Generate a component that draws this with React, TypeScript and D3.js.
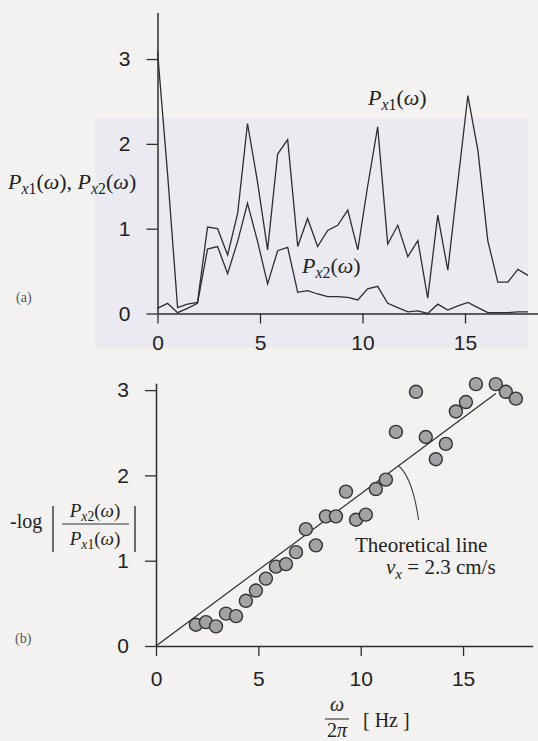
import React, { useRef, useEffect } from "react";
import * as d3 from "d3";

// spectrum frequencies [Hz] (0.488 Hz bins)
const freq = [
  0, 0.49, 0.98, 1.46, 1.95, 2.44, 2.93, 3.42, 3.91, 4.39, 4.88, 5.37, 5.86,
  6.35, 6.84, 7.32, 7.81, 8.3, 8.79, 9.28, 9.77, 10.25, 10.74, 11.23, 11.72,
  12.21, 12.7, 13.18, 13.67, 14.16, 14.65, 15.14, 15.63, 16.11, 16.6, 17.09,
  17.58, 18.07,
];
const px1 = [
  3.09, 1.65, 0.07, 0.11, 0.13, 1.02, 1.0, 0.69, 1.18, 2.24, 1.55, 0.75, 1.88,
  2.05, 0.79, 1.12, 0.79, 0.98, 1.04, 1.22, 0.75, 1.5, 2.2, 0.82, 1.04, 0.67,
  0.86, 0.18, 1.16, 0.51, 1.55, 2.57, 1.92, 0.86, 0.37, 0.37, 0.52, 0.45,
];
const px2 = [
  0.06, 0.12, 0.01, 0.06, 0.12, 0.76, 0.79, 0.47, 0.85, 1.3, 0.85, 0.35, 0.74,
  0.78, 0.25, 0.27, 0.23, 0.2, 0.2, 0.19, 0.16, 0.29, 0.32, 0.12, 0.07, 0.02,
  0.03, 0.0, 0.11, 0.04, 0.09, 0.13, 0.07, 0.01, 0.01, 0.01, 0.02, 0.02,
];

// -log|Px2/Px1|
const ratioFreq = [
  1.95, 2.44, 2.93, 3.42, 3.91, 4.39, 4.88, 5.37, 5.86, 6.35, 6.84, 7.32, 7.81,
  8.3, 8.79, 9.28, 9.77, 10.25, 10.74, 11.23, 11.72, 12.7, 13.18, 13.67, 14.16,
  14.65, 15.14, 15.63, 16.6, 17.09, 17.58,
];
const ratioVal = [
  0.25, 0.28, 0.23, 0.38, 0.35, 0.53, 0.65, 0.79, 0.93, 0.96, 1.1, 1.37, 1.18,
  1.52, 1.52, 1.81, 1.48, 1.54, 1.84, 1.95, 2.51, 2.98, 2.45, 2.19, 2.37, 2.75,
  2.86, 3.07, 3.07, 2.98, 2.9,
];
// theoretical line v_x = 2.3 cm/s
const theoryX = [0, 16.6];
const theoryY = [0, 2.96];

const xTicks = [0, 5, 10, 15];
const yTicks = [0, 1, 2, 3];

const INK = "#2e2e2e";
const SERIF = "'Liberation Serif', 'Times New Roman', serif";
const SANS = "'Liberation Sans', Arial, sans-serif";

type Sel = d3.Selection<SVGGElement, unknown, null, undefined>;

// P_{x n}(ω) as text
function pLabel(t: d3.Selection<SVGTextElement, unknown, null, undefined>, n: string) {
  t.append("tspan").attr("font-style", "italic").text("P");
  t.append("tspan").attr("font-style", "italic").attr("font-size", "0.72em").attr("dy", "0.3em").text("x");
  t.append("tspan").attr("font-size", "0.72em").text(n);
  t.append("tspan").attr("dy", "-0.22em").text("(");
  t.append("tspan").attr("font-style", "italic").text("ω");
  t.append("tspan").text(")");
}

function styleAxis(g: Sel, size: number) {
  g.select(".domain").attr("stroke", INK).attr("stroke-width", 1.5);
  g.selectAll(".tick line").attr("stroke", INK).attr("stroke-width", 1.3);
  g.selectAll(".tick text")
    .attr("fill", "#222")
    .attr("font-family", SANS)
    .attr("font-size", size);
}

const App: React.FC = () => {
  const gRef = useRef<SVGGElement | null>(null);

  useEffect(() => {
    if (!gRef.current) return;
    const root = d3.select(gRef.current);
    root.selectAll("*").remove();
    const fmt = d3.format("d");

    // ---------- (a) spectra ----------
    const xA = d3.scaleLinear().domain([0, 18.56]).range([157.5, 538]);
    const yA = d3.scaleLinear().domain([0, 3.55]).range([313.5, 12.4]);

    const gA = root.append("g");
    const axA = gA
      .append("g")
      .attr("transform", `translate(0,${yA(0)})`)
      .call(d3.axisBottom(xA).tickValues(xTicks).tickFormat(fmt).tickSize(10).tickSizeOuter(0).tickPadding(12));
    styleAxis(axA, 21);
    const ayA = gA
      .append("g")
      .attr("transform", `translate(${xA(0)},0)`)
      .call(d3.axisLeft(yA).tickValues(yTicks).tickFormat(fmt).tickSize(11).tickSizeOuter(0).tickPadding(16));
    styleAxis(ayA, 21);

    const lineA = (vals: number[]) =>
      d3
        .line<number>()
        .x((_, i) => xA(freq[i]))
        .y((d) => yA(d))(vals);

    gA.selectAll(".spec")
      .data([px1, px2])
      .join("path")
      .attr("class", "spec")
      .attr("d", (d) => lineA(d))
      .attr("fill", "none")
      .attr("stroke", INK)
      .attr("stroke-width", 1.3)
      .attr("stroke-linejoin", "miter");

    const l1 = gA.append("text").attr("x", 368).attr("y", 105).attr("font-family", SERIF).attr("font-size", 22).attr("fill", "#222");
    pLabel(l1, "1");
    const l2 = gA.append("text").attr("x", 302).attr("y", 273).attr("font-family", SERIF).attr("font-size", 22).attr("fill", "#222");
    pLabel(l2, "2");

    const yl = gA.append("text").attr("x", 8).attr("y", 189).attr("font-family", SERIF).attr("font-size", 22).attr("fill", "#222");
    pLabel(yl, "1");
    yl.append("tspan").text(", ");
    pLabel(yl, "2");

    gA.append("text").attr("x", 16).attr("y", 302).attr("font-family", SERIF).attr("font-size", 14).attr("fill", "#555").text("(a)");

    // ---------- (b) ratio ----------
    const xB = d3.scaleLinear().domain([0, 18.4]).range([156, 156 + 18.4 * 20.47]);
    const yB = d3.scaleLinear().domain([0, 3.08]).range([646, 646 - 3.08 * 85.3]);

    const gB = root.append("g");
    const axB = gB
      .append("g")
      .attr("transform", `translate(0,${yB(0)})`)
      .call(d3.axisBottom(xB).tickValues(xTicks).tickFormat(fmt).tickSize(10).tickSizeOuter(0).tickPadding(15));
    styleAxis(axB, 21);
    const ayB = gB
      .append("g")
      .attr("transform", `translate(${xB(0)},0)`)
      .call(d3.axisLeft(yB).tickValues(yTicks).tickFormat(fmt).tickSize(11).tickSizeOuter(0).tickPadding(16));
    styleAxis(ayB, 21);

    gB.append("path")
      .attr("d", d3.line<number>().x((d) => xB(d)).y((_, i) => yB(theoryY[i]))(theoryX))
      .attr("stroke", INK)
      .attr("stroke-width", 1.2)
      .attr("fill", "none");

    gB.selectAll(".pt")
      .data(ratioVal)
      .join("circle")
      .attr("class", "pt")
      .attr("cx", (_, i) => xB(ratioFreq[i]))
      .attr("cy", (d) => yB(d))
      .attr("r", 6.5)
      .attr("fill", "#a3a3a6")
      .attr("stroke", "#333")
      .attr("stroke-width", 1.4);

    // leader from theoretical line to its label
    const lx = xB(11.85);
    const ly = yB((theoryY[1] / theoryX[1]) * 11.85);
    gB.append("path")
      .attr("d", `M${lx},${ly} Q${lx + 14},${ly + 12} ${lx + 20},${ly + 54}`)
      .attr("fill", "none")
      .attr("stroke", "#444")
      .attr("stroke-width", 1.1);

    gB.append("text").attr("x", 355).attr("y", 552).attr("font-family", SERIF).attr("font-size", 21).attr("fill", "#222").text("Theoretical  line");
    const vt = gB.append("text").attr("x", 386).attr("y", 574).attr("font-family", SERIF).attr("font-size", 21).attr("fill", "#222");
    vt.append("tspan").attr("font-style", "italic").text("v");
    vt.append("tspan").attr("font-style", "italic").attr("font-size", "0.72em").attr("dy", "0.3em").text("x");
    vt.append("tspan").attr("dy", "-0.22em").text(" = 2.3 cm/s");

    // y label: -log | Px2 / Px1 |
    gB.append("text").attr("x", 10).attr("y", 528).attr("font-family", SERIF).attr("font-size", 20).attr("fill", "#222").text("-log");
    [53, 135].forEach((bx) =>
      gB.append("line").attr("x1", bx).attr("x2", bx).attr("y1", 506).attr("y2", 552).attr("stroke", "#333").attr("stroke-width", 1.4)
    );
    const num = gB.append("text").attr("x", 95).attr("y", 517).attr("text-anchor", "middle").attr("font-family", SERIF).attr("font-size", 19).attr("fill", "#222");
    pLabel(num, "2");
    gB.append("line").attr("x1", 62).attr("x2", 129).attr("y1", 524).attr("y2", 524).attr("stroke", "#333").attr("stroke-width", 1.1);
    const den = gB.append("text").attr("x", 95).attr("y", 545).attr("text-anchor", "middle").attr("font-family", SERIF).attr("font-size", 19).attr("fill", "#222");
    pLabel(den, "1");

    gB.append("text").attr("x", 15).attr("y", 643).attr("font-family", SERIF).attr("font-size", 14).attr("fill", "#555").text("(b)");

    // x label: ω / 2π [ Hz ]
    gB.append("text").attr("x", 337).attr("y", 711).attr("text-anchor", "middle").attr("font-family", SERIF).attr("font-style", "italic").attr("font-size", 20).attr("fill", "#222").text("ω");
    gB.append("line").attr("x1", 325).attr("x2", 349).attr("y1", 719).attr("y2", 719).attr("stroke", "#333").attr("stroke-width", 1.1);
    const tp = gB.append("text").attr("x", 337).attr("y", 737).attr("text-anchor", "middle").attr("font-family", SERIF).attr("font-size", 20).attr("fill", "#222");
    tp.append("tspan").text("2");
    tp.append("tspan").attr("font-style", "italic").text("π");
    gB.append("text").attr("x", 363).attr("y", 727).attr("font-family", SERIF).attr("font-size", 20).attr("fill", "#222").text("[ Hz ]");
  }, []);

  return (
    <svg
      width={538}
      height={741}
      style={{ position: "absolute", left: 0, top: 0, background: "#f3f2f0" }}
    >
      {/* faint print-through panel behind (a) */}
      <rect x={95} y={118} width={433} height={230} fill="#eaeaf0" />
      <g ref={gRef} />
    </svg>
  );
};

export default App;
